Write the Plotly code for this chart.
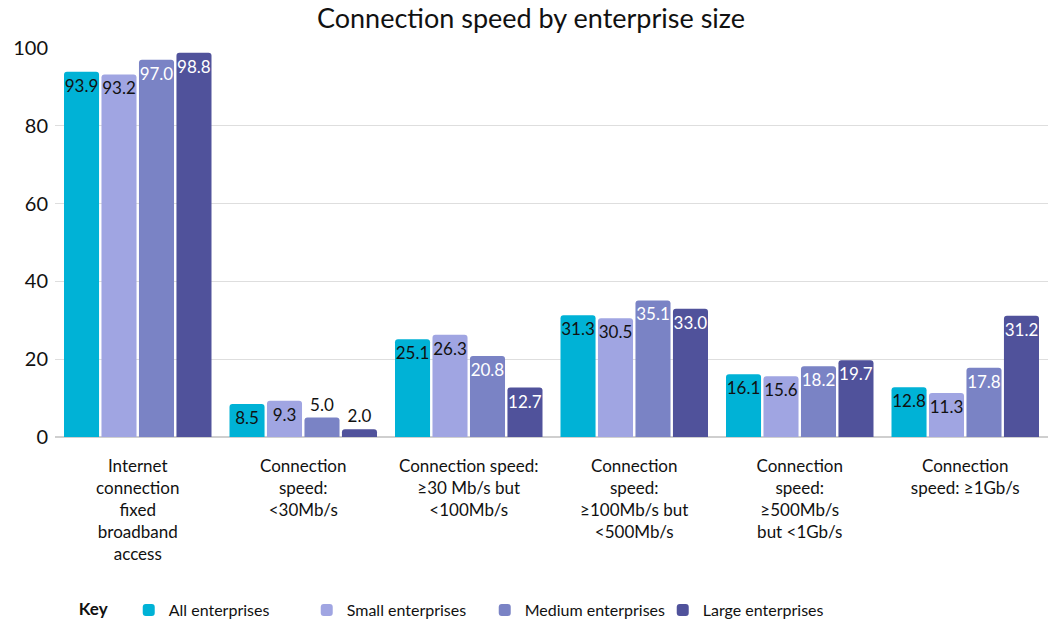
import plotly.graph_objects as go

categories = [
    "Internet<br>connection<br>fixed<br>broadband<br>access",
    "Connection<br>speed:<br>&lt;30Mb/s",
    "Connection speed:<br>≥30 Mb/s but<br>&lt;100Mb/s",
    "Connection<br>speed:<br>≥100Mb/s but<br>&lt;500Mb/s",
    "Connection<br>speed:<br>≥500Mb/s<br>but &lt;1Gb/s",
    "Connection<br>speed: ≥1Gb/s",
]
series_names = ["All enterprises", "Small enterprises", "Medium enterprises", "Large enterprises"]
all_ent = [93.9, 8.5, 25.1, 31.3, 16.1, 12.8]
small_ent = [93.2, 9.3, 26.3, 30.5, 15.6, 11.3]
medium_ent = [97.0, 5.0, 20.8, 35.1, 18.2, 17.8]
large_ent = [98.8, 2.0, 12.7, 33.0, 19.7, 31.2]
y_ticks = [0, 20, 40, 60, 80, 100]

colors = ["#00b2d6", "#a0a5e2", "#7a83c5", "#50529b"]
text_colors = ["#111111", "#111111", "#ffffff", "#ffffff"]
FONT = "Lato"

fig = go.Figure()
for name, vals, col, tcol in zip(series_names, [all_ent, small_ent, medium_ent, large_ent], colors, text_colors):
    positions = ["inside" if v >= 7 else "outside" for v in vals]
    fig.add_trace(go.Bar(
        x=categories, y=vals, name=name,
        marker=dict(color=col, line=dict(width=0)),
        text=[f"{v:.1f}" for v in vals],
        textposition=positions,
        insidetextanchor="end",
        textangle=0,
        insidetextfont=dict(color=tcol, size=17, family=FONT),
        outsidetextfont=dict(color="#111111", size=17, family=FONT),
        constraintext="none",
        cliponaxis=False,
    ))

fig.update_layout(
    width=1062, height=622,
    margin=dict(l=55, r=14, t=48, b=185, autoexpand=False),
    paper_bgcolor="white", plot_bgcolor="white",
    font=dict(family=FONT, color="#111111"),
    title=dict(text="Connection speed by enterprise size", x=0.5, xanchor="center",
               yref="container", y=0.985, yanchor="top", font=dict(size=27, family=FONT, color="#111111")),
    barmode="group", bargap=0.094, bargroupgap=0.065,
    barcornerradius=3,
    showlegend=True,
    legend=dict(orientation="h", x=0.022, xanchor="left", y=-0.445, yanchor="middle",
                title=dict(text="<b>Key</b>   ", font=dict(size=17, family=FONT)),
                font=dict(size=16, family=FONT), entrywidth=133, itemsizing="constant"),
)
fig.update_yaxes(range=[0, 100], tickvals=y_ticks, showgrid=True, gridcolor="#dedede",
                 gridwidth=1, zeroline=True, zerolinecolor="#cfcfcf", automargin=False,
                 tickfont=dict(size=20, family=FONT), ticks="", ticklabelstandoff=6)
fig.update_xaxes(tickfont=dict(size=17, family=FONT), ticks="", showline=False,
                 automargin=False, ticklabelstandoff=17)

fig.write_html("out.html", config={"displayModeBar": False},
               post_script="document.body.style.margin='0';document.body.style.padding='0';")
